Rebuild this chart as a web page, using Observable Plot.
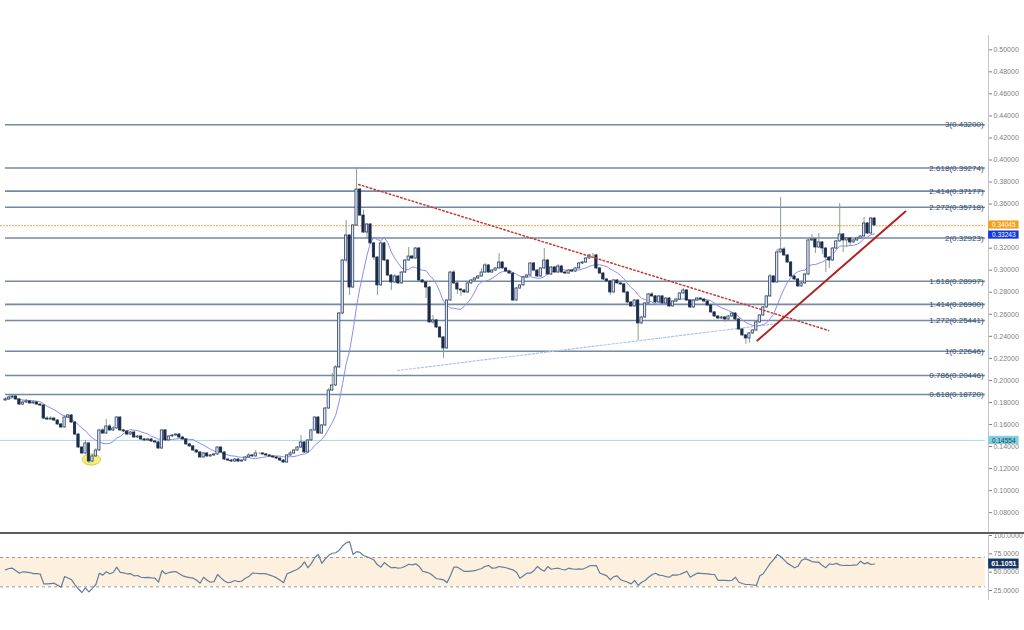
<!DOCTYPE html>
<html><head><meta charset="utf-8">
<script src="https://cdn.jsdelivr.net/npm/d3@7"></script>
<script src="https://cdn.jsdelivr.net/npm/@observablehq/plot@0.6"></script>
<style>
html,body{margin:0;padding:0;background:#fff;}
#chart{width:1024px;}
.sep{height:2px;background:#5c5c5c;}
svg{display:block;}
</style></head><body><div id="chart"></div>
<script>
// ---------- DATA ----------
const opens = [
.1818,.1827,.1845,.1854,.1827,.1781,.1800,.1809,.1791,.1800,
.1781,.1772,.1654,.1645,.1654,.1636,.1600,.1573,.1663,.1682,
.1618,.1509,.1391,.1337,.1428,.1264,.1310,.1364,.1546,.1518,
.1582,.1546,.1564,.1663,.1546,.1537,.1509,.1527,.1482,.1491,
.1464,.1455,.1464,.1446,.1437,.1382,.1546,.1455,.1491,.1500,
.1509,.1482,.1464,.1419,.1401,.1364,.1346,.1301,.1337,.1310,
.1319,.1328,.1391,.1346,.1282,.1273,.1264,.1282,.1264,.1273,
.1301,.1319,.1310,.1337,.1337,.1328,.1319,.1310,.1301,.1291,
.1273,.1255,.1319,.1337,.1364,.1391,.1437,.1346,.1455,.1546,
.1663,.1518,.1591,.1745,.1908,.1954,.2118,.2607,.3088,.3315,
.2843,.3406,.3732,.3496,.3342,.3415,.3243,.3115,.2862,.3243,
.3088,.2952,.2889,.2943,.2880,.2979,.3088,.3124,.3106,.3197,
.2907,.2889,.2843,.2526,.2544,.2480,.2390,.2290,.2725,.2979,
.2880,.2825,.2816,.2798,.2880,.2907,.2925,.2943,.2979,.3043,
.2979,.2997,.3016,.3070,.3016,.2988,.2970,.2725,.2834,.2862,
.2934,.2952,.3061,.2997,.2943,.3016,.3088,.2961,.3025,.2979,
.3034,.2979,.2970,.2997,.2988,.3016,.3061,.3070,.3106,.3134,
.3134,.3016,.2970,.2916,.2898,.2798,.2907,.2880,.2871,.2798,
.2707,.2671,.2725,.2517,.2571,.2698,.2780,.2762,.2707,.2762,
.2698,.2743,.2671,.2716,.2734,.2789,.2816,.2725,.2662,.2725,
.2743,.2734,.2716,.2680,.2617,.2580,.2562,.2571,.2553,.2580,
.2607,.2553,.2462,.2408,.2381,.2426,.2453,.2526,.2589,.2662,
.2762,.2943,.2889,.3161,.3188,.3134,.3070,.2943,.2916,.2853,
.2880,.2961,.3270,.3279,.3206,.3252,.3197,.3115,.3088,.3197,
.3261,.3324,.3270,.3288,.3252,.3270,.3288,.3306,.3424,.3333,
.3469];
const highs = [
.1845,.1863,.1872,.1863,.1836,.1818,.1827,.1818,.1818,.1809,
.1791,.1781,.1672,.1672,.1663,.1645,.1609,.1682,.1691,.1691,
.1627,.1518,.1400,.1455,.1437,.1328,.1382,.1555,.1564,.1645,
.1600,.1582,.1672,.1672,.1555,.1546,.1537,.1537,.1500,.1500,
.1473,.1473,.1473,.1455,.1446,.1555,.1555,.1500,.1509,.1518,
.1518,.1491,.1473,.1428,.1410,.1373,.1355,.1346,.1346,.1328,
.1337,.1400,.1400,.1355,.1291,.1282,.1291,.1291,.1282,.1310,
.1337,.1328,.1364,.1346,.1346,.1337,.1328,.1319,.1310,.1300,
.1282,.1328,.1355,.1373,.1400,.1500,.1446,.1464,.1555,.1672,
.1672,.1600,.1754,.1927,.2064,.2136,.2616,.3097,.3452,.3324,
.3415,.3932,.3741,.3543,.3424,.3424,.3252,.3124,.3261,.3252,
.3097,.2961,.2961,.2952,.2988,.3097,.3206,.3134,.3206,.3206,
.2916,.2898,.2852,.2589,.2553,.2489,.2399,.2734,.2988,.2997,
.2889,.2834,.2825,.2889,.2916,.2934,.2952,.3016,.3061,.3052,
.3006,.3025,.3152,.3079,.3025,.2997,.2979,.2843,.2871,.2943,
.2961,.3070,.3070,.3006,.3025,.3197,.3097,.3034,.3034,.3052,
.3043,.2988,.3006,.3006,.3025,.3070,.3079,.3115,.3143,.3152,
.3143,.3025,.2979,.2925,.2907,.2916,.2916,.2889,.2880,.2807,
.2716,.2734,.2734,.2580,.2707,.2789,.2798,.2771,.2771,.2771,
.2753,.2753,.2725,.2743,.2798,.2834,.2825,.2734,.2734,.2753,
.2753,.2743,.2725,.2689,.2626,.2589,.2580,.2580,.2589,.2616,
.2616,.2562,.2471,.2417,.2435,.2462,.2535,.2598,.2671,.2771,
.2961,.2952,.3188,.3660,.3206,.3143,.3079,.2952,.2925,.2889,
.2970,.3279,.3324,.3288,.3333,.3261,.3206,.3124,.3206,.3270,
.3605,.3333,.3297,.3297,.3279,.3297,.3315,.3478,.3433,.3478,
.3478];
const lows = [
.1809,.1818,.1836,.1818,.1772,.1772,.1791,.1781,.1781,.1772,
.1763,.1645,.1636,.1636,.1627,.1591,.1564,.1564,.1654,.1609,
.1500,.1382,.1328,.1328,.1246,.1255,.1300,.1355,.1509,.1509,
.1537,.1537,.1555,.1537,.1527,.1500,.1500,.1473,.1473,.1455,
.1446,.1446,.1437,.1428,.1373,.1373,.1446,.1446,.1482,.1491,
.1473,.1455,.1410,.1391,.1355,.1337,.1291,.1291,.1300,.1300,
.1310,.1319,.1337,.1273,.1264,.1255,.1255,.1255,.1255,.1264,
.1291,.1300,.1300,.1328,.1319,.1310,.1300,.1291,.1282,.1264,
.1246,.1246,.1310,.1328,.1355,.1382,.1337,.1337,.1446,.1537,
.1509,.1509,.1582,.1736,.1900,.1945,.2109,.2598,.3070,.2771,
.2834,.3397,.3487,.3333,.3288,.3234,.3088,.2771,.2853,.3079,
.2943,.2816,.2880,.2871,.2871,.2970,.3079,.3097,.3097,.2898,
.2880,.2743,.2517,.2508,.2471,.2381,.2200,.2281,.2716,.2871,
.2780,.2762,.2789,.2789,.2871,.2898,.2916,.2934,.2970,.2970,
.2970,.2988,.3006,.3006,.2979,.2961,.2716,.2716,.2825,.2853,
.2925,.2943,.2988,.2934,.2934,.3006,.2952,.2952,.2970,.2970,
.2970,.2961,.2961,.2979,.2979,.3006,.3052,.3061,.3097,.3124,
.3006,.2961,.2907,.2889,.2771,.2789,.2871,.2862,.2789,.2698,
.2662,.2662,.2363,.2508,.2562,.2689,.2753,.2698,.2698,.2689,
.2689,.2662,.2662,.2707,.2725,.2780,.2716,.2653,.2653,.2716,
.2725,.2707,.2671,.2608,.2571,.2553,.2553,.2526,.2544,.2571,
.2544,.2453,.2399,.2327,.2336,.2417,.2444,.2517,.2580,.2653,
.2753,.2880,.2880,.3152,.3125,.3061,.2934,.2907,.2844,.2844,
.2871,.2952,.3261,.3152,.3197,.3143,.2979,.3016,.3079,.3188,
.3252,.3161,.3206,.3215,.3243,.3261,.3279,.3297,.3324,.3324,
.3397];
const closes = [
.1827,.1845,.1854,.1827,.1781,.1800,.1809,.1791,.1800,.1781,
.1772,.1654,.1645,.1654,.1636,.1600,.1573,.1663,.1682,.1618,
.1509,.1391,.1337,.1428,.1264,.1310,.1364,.1546,.1518,.1582,
.1546,.1564,.1663,.1546,.1537,.1509,.1527,.1482,.1491,.1464,
.1455,.1464,.1446,.1437,.1382,.1546,.1455,.1491,.1500,.1509,
.1482,.1464,.1419,.1401,.1364,.1346,.1301,.1337,.1310,.1319,
.1328,.1391,.1346,.1282,.1273,.1264,.1282,.1264,.1273,.1301,
.1319,.1310,.1337,.1337,.1328,.1319,.1310,.1301,.1291,.1273,
.1255,.1319,.1337,.1364,.1391,.1437,.1346,.1455,.1546,.1663,
.1518,.1591,.1745,.1908,.1954,.2118,.2607,.3088,.3315,.2843,
.3406,.3732,.3496,.3342,.3415,.3243,.3115,.2862,.3243,.3088,
.2952,.2889,.2943,.2880,.2979,.3088,.3124,.3106,.3197,.2907,
.2889,.2843,.2526,.2544,.2480,.2390,.2290,.2725,.2979,.2880,
.2825,.2816,.2798,.2880,.2907,.2925,.2943,.2979,.3043,.2979,
.2997,.3016,.3070,.3016,.2988,.2970,.2725,.2834,.2862,.2934,
.2952,.3061,.2997,.2943,.3016,.3088,.2961,.3025,.2979,.3034,
.2979,.2970,.2997,.2988,.3016,.3061,.3070,.3106,.3134,.3134,
.3016,.2970,.2916,.2898,.2798,.2907,.2880,.2871,.2798,.2707,
.2671,.2725,.2517,.2571,.2698,.2780,.2762,.2707,.2762,.2698,
.2743,.2671,.2716,.2734,.2789,.2816,.2725,.2662,.2725,.2743,
.2734,.2716,.2680,.2617,.2580,.2562,.2571,.2553,.2580,.2607,
.2553,.2462,.2408,.2381,.2426,.2453,.2526,.2589,.2662,.2762,
.2943,.2889,.3161,.3188,.3134,.3070,.2943,.2916,.2853,.2880,
.2961,.3270,.3279,.3206,.3252,.3197,.3115,.3088,.3197,.3261,
.3324,.3270,.3288,.3252,.3270,.3288,.3306,.3424,.3333,.3469,
.3406];
const rsiValues = [
53.2,55,55.4,52,48.6,50.5,50,49.5,48,48,
47.5,34.1,34.1,34.5,35,32,29.5,44.1,42,39.6,
32.8,27,22.3,28.7,23.2,28,33.2,48.6,46,50.5,
47.8,49.5,56.8,49.7,49,47.8,48,45,45.5,43.1,
42.5,43,42.2,41.8,36.3,52.2,47.8,49.5,50.5,50.8,
48,45,43.5,42.5,41.8,39,35,43.1,39,36.3,
37,46.8,42.2,38,35.6,36.5,38.7,37,38,41.8,
44,48.6,48.5,48,48,47.8,46,44.5,42.2,39,
35.6,47.8,49.7,52,54,57.7,64,56,62,70,
74,62,68,73,75.8,76.5,80,86,90,91.7,
74,78,77,72.7,71,69,66.5,60,56.8,63.1,
59,56,56.5,55.4,56,58,60.8,60,61.4,58,
51.3,50,48.6,45,41,40.5,39.6,35.6,45,56.8,
56.8,54,51,51,51.5,52,53.6,55,58,59.1,
55.4,55.8,57.7,57,56,54.5,53.2,50,41.8,45,
48.6,48.6,52,57.7,54,51.3,57.7,54,55,55.4,
54,53,55.4,54.5,54,54.5,54,56.1,58.5,59.1,
58.8,48.6,47,45,39.6,44,45,39.6,38,36.3,
34.1,38.7,31.9,36.3,38.7,43,46.4,48.6,46,45.5,
44,43.1,46.4,46,46.8,49,51.3,43.1,46,48.6,
48.3,48,47.8,47,46.8,38.7,39,38.7,38.5,39,
43.1,36.3,34.5,33.2,33.2,32.5,31.9,45,47.8,55,
62,67,74,71.3,66.8,62,59,56.1,58,66,
68.2,66.8,64.5,63.6,63.6,59,56.1,61.4,60.5,62,
60,59.1,59.3,59.1,59.5,60,65,61.4,63,60.5,
61.1051];

const fibRatios = ["3","2.618","2.414","2.272","2","1.618","1.414","1.272","1","0.786","0.618"];
const fibValues = [0.43200,0.39274,0.37177,0.35718,0.32923,0.28997,0.26900,0.25441,0.22646,0.20446,0.18720];
// 0.34000 tick label sits under the orange last-price tag in the reference
const priceTicks = [0.08,0.10,0.12,0.14,0.16,0.18,0.20,0.22,0.24,0.26,0.28,0.30,0.32,0.36,0.38,0.40,0.42,0.44,0.46,0.48,0.50];
const rsiTicks = [25,50,75,100];
const rsiBand = [30,70];
const lastPrice = 0.34045;
const bidPrice = 0.33243;
const supportLevel = 0.14554;
const lastRsi = 61.1051;
const trendDown = [{i:101.6, price:0.3778},{i:236.8, price:0.2453}];
const trendSupport = [{i:112.8, price:0.2090},{i:222.1, price:0.2516}];
const trendUp = [{i:216.3, price:0.2362},{i:258.9, price:0.3533}];
const highlight = [{i:24.7, price:0.1282}];

// ---------- build ----------
const candles = closes.map((c, i) => ({i, open: opens[i], high: highs[i], low: lows[i], close: c}));
const rsi = rsiValues.map((v, i) => ({i, rsi: v}));
const fibs = fibValues.map((v, k) => ({value: v, label: `${fibRatios[k]}(${v.toFixed(5)})`}));

const xDomain = [-1.44, 282.8];
const xEnd = 281.9;
const tagX1 = 282.85, tagX2 = 291.6, tagXc = 287.2;
const font = "'Liberation Sans', Arial, sans-serif";

const ellipse = {draw(ctx, size) {
  const r = Math.sqrt(size / Math.PI), rx = r * 1.4, ry = r * 0.85, k = 0.5523;
  ctx.moveTo(rx, 0);
  ctx.bezierCurveTo(rx, k*ry, k*rx, ry, 0, ry);
  ctx.bezierCurveTo(-k*rx, ry, -rx, k*ry, -rx, 0);
  ctx.bezierCurveTo(-rx, -k*ry, -k*rx, -ry, 0, -ry);
  ctx.bezierCurveTo(k*rx, -ry, rx, -k*ry, rx, 0);
  ctx.closePath();
}};

function priceTag(value, fill, color, shift) {
  return [
    Plot.rect([value], {x1: tagX1, x2: tagX2, y1: d => d - 0.0037, y2: d => d + 0.0037, fill, dy: shift}),
    Plot.text([value], {x: tagXc, y: d => d, text: d => d.toFixed(5), fill: color, fontSize: 6.5, fontFamily: font, dy: shift})
  ];
}

const main = Plot.plot({
  width: 1024, height: 532,
  marginLeft: 0, marginRight: 36, marginTop: 35, marginBottom: 0,
  x: {domain: xDomain, axis: null},
  y: {domain: [0.06198, 0.51298], axis: "right", ticks: priceTicks, tickFormat: d => d.toFixed(5), tickSize: 3, tickPadding: 2, label: null},
  style: {fontFamily: font, fontSize: "7px", color: "#808080", background: "transparent", overflow: "visible"},
  marks: [
    Plot.ruleY([supportLevel], {x1: xDomain[0], x2: xEnd, stroke: "#a6dce6", strokeWidth: 1}),
    Plot.ruleY(fibs, {y: "value", x1: 0, x2: xEnd, stroke: "#7489a3", strokeWidth: 1.6}),
    Plot.ruleY([lastPrice], {x1: xDomain[0], x2: xEnd, stroke: "#f5b36e", strokeWidth: 1.2, strokeDasharray: "2,1"}),
    Plot.text(fibs, {y: "value", x: 281.4, text: "label", textAnchor: "end", fill: "#2e4a6b", fontSize: 8, fontFamily: font}),
    Plot.line(trendSupport, {x: "i", y: "price", stroke: "#a9c3ef", strokeWidth: 1.2, strokeDasharray: "2,2"}),
    Plot.dot(highlight, {x: "i", y: "price", r: 6.5, symbol: ellipse, fill: "#f1ec6a", fillOpacity: 0.9, stroke: "#d6cb35", strokeWidth: 1}),
    Plot.lineY(candles, Plot.windowY({k: 10, anchor: "end"}, {x: "i", y: "close", stroke: "#8c8cf2", strokeWidth: 1})),
    Plot.ruleX(candles, {x: "i", y1: "low", y2: "high", stroke: "#8a9c86", strokeWidth: 1}),
    Plot.rect(candles, {
      x1: d => d.i - 0.33, x2: d => d.i + 0.33, y1: "open", y2: "close",
      fill: d => d.close >= d.open ? "#dde4f1" : "#1c2c4c",
      stroke: d => d.close >= d.open ? "#2e416a" : "#1c2c4c", strokeWidth: 0.8
    }),
    Plot.line(trendDown, {x: "i", y: "price", stroke: "#c43a31", strokeWidth: 1.5, strokeDasharray: "1.5,2.5"}),
    Plot.line(trendUp, {x: "i", y: "price", stroke: "#b32222", strokeWidth: 2}),
    Plot.ruleX([xDomain[1]], {y1: 0.0620, y2: 0.5129, stroke: "#c4c4c4", strokeWidth: 1}),
    ...priceTag(lastPrice, "#f6a01a", "#ffffff", -0.6),
    ...priceTag(bidPrice, "#1237e6", "#ffffff", 0.6),
    ...priceTag(supportLevel, "#7fcfdf", "#1d3d55", 0)
  ]
});

const lower = Plot.plot({
  width: 1024, height: 96,
  marginLeft: 0, marginRight: 36, marginTop: 1, marginBottom: 21.65,
  x: {domain: xDomain, axis: null},
  y: {domain: [0, 100], axis: "right", ticks: rsiTicks, tickFormat: d => d.toFixed(4), tickSize: 3, tickPadding: 2, label: null},
  style: {fontFamily: font, fontSize: "7px", color: "#808080", background: "transparent", overflow: "visible"},
  marks: [
    Plot.rect([rsiBand], {x1: xDomain[0], x2: xEnd, y1: d => d[0], y2: d => d[1], fill: "#fdf0df"}),
    Plot.ruleY(rsiBand, {x1: xDomain[0], x2: xEnd, stroke: "#9a9a9a", strokeWidth: 1, strokeDasharray: "3,3"}),
    Plot.ruleX([xDomain[1]], {y1: 12, y2: 100, stroke: "#c4c4c4", strokeWidth: 1}),
    Plot.line(rsi, {x: "i", y: "rsi", stroke: "#617f9e", strokeWidth: 1.2}),
    Plot.rect([lastRsi], {x1: tagX1, x2: tagX2, y1: d => d - 6.8, y2: d => d + 6.8, fill: "#143463"}),
    Plot.text([lastRsi], {x: tagXc, y: d => d, text: d => d.toFixed(4), fill: "#ffffff", fontSize: 7, fontFamily: font, fontWeight: "bold"})
  ]
});

const root = document.getElementById("chart");
root.appendChild(main);
const sep = document.createElement("div");
sep.className = "sep";
root.appendChild(sep);
root.appendChild(lower);
</script></body></html>
